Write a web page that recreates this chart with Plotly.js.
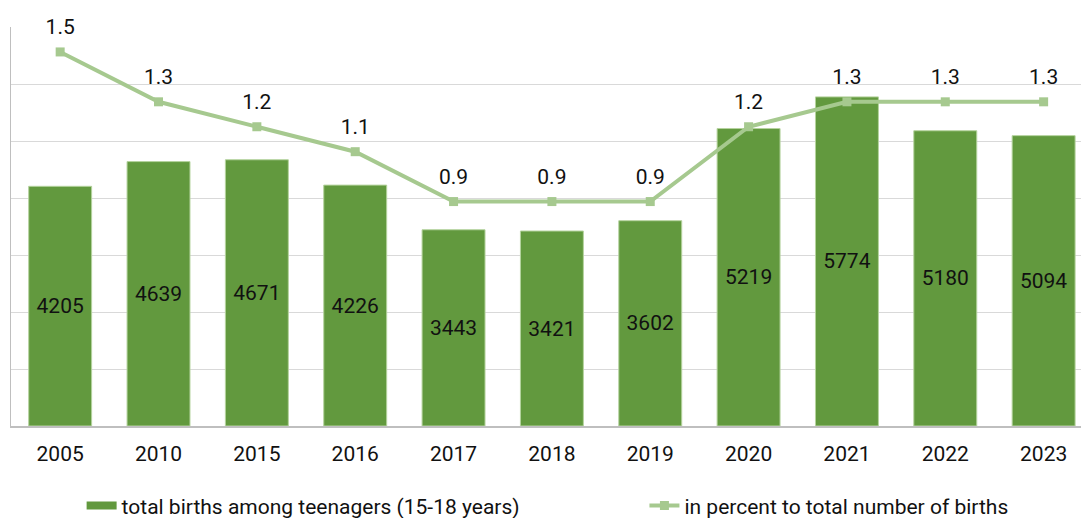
<!DOCTYPE html>
<html><head><meta charset="utf-8">
<script src="https://cdn.plot.ly/plotly-3.0.1.min.js"></script>
<style>html,body{margin:0;padding:0;background:#fff}#chart{width:1081px;height:518px}</style>
</head><body><div id="chart"></div>
<script>
const years = ["2005","2010","2015","2016","2017","2018","2019","2020","2021","2022","2023"];
const births = [4205,4639,4671,4226,3443,3421,3602,5219,5774,5180,5094];
const percent = [1.5,1.3,1.2,1.1,0.9,0.9,0.9,1.2,1.3,1.3,1.3];
const barName = "total births among teenagers (15-18 years)";
const lineName = "in percent to total number of births";

const font = "Roboto, 'Noto Sans', sans-serif";
const barColor = "#62993e";
const lineColor = "#a6c98f";
const traces = [
  {type:"bar", x:years, y:births, name:barName, showlegend:false,
   marker:{color:barColor, line:{color:"#b5d39e", width:1}},
   text:births.map(String), textposition:"inside", insidetextanchor:"middle",
   textangle:0, textfont:{family:font, size:21, color:"#111"}, constraintext:"none"},
  {type:"scatter", mode:"lines", x:[years[0]], y:[null], name:barName, legend:"legend",
   line:{color:barColor, width:8}, hoverinfo:"skip"},
  {type:"scatter", mode:"lines+markers", x:years, y:percent, yaxis:"y2", name:lineName, legend:"legend2",
   line:{color:lineColor, width:4}, marker:{color:lineColor, size:9, symbol:"square"}, cliponaxis:false},
  // value labels above the line points
  {type:"scatter", mode:"markers+text", x:years, y:percent, yaxis:"y2", showlegend:false,
   marker:{size:18, color:"rgba(0,0,0,0)"}, text:percent.map(v=>v.toFixed(1)),
   textposition:"top center", textfont:{family:font, size:21, color:"#111"}, cliponaxis:false}
];
const legendBase = {orientation:"h", y:-0.2, yanchor:"middle", xanchor:"left",
  font:{family:font, size:21, color:"#111"}, bgcolor:"rgba(0,0,0,0)"};
const layout = {
  width:1081, height:518,
  margin:{l:11, r:0, t:27, b:92, autoexpand:false},
  paper_bgcolor:"#fff", plot_bgcolor:"#fff",
  font:{family:font, size:21, color:"#111"},
  bargap:0.36,
  showlegend:true,
  legend:Object.assign({}, legendBase, {x:0.066}),
  legend2:Object.assign({}, legendBase, {x:0.592}),
  xaxis:{type:"category", range:[-0.5,10.38], showgrid:false, showline:true, linecolor:"#bfbfbf",
         linewidth:1.5, ticks:"", ticklabelstandoff:8, tickfont:{family:font,size:21,color:"#111"}},
  yaxis:{range:[0,7000], dtick:1000, showgrid:true, gridcolor:"#d9d9d9", gridwidth:1,
         showline:true, linecolor:"#bfbfbf", linewidth:1.5, showticklabels:false, ticks:"", zeroline:false},
  yaxis2:{range:[0,1.6], overlaying:"y", side:"right", showgrid:false, showticklabels:false,
          showline:false, zeroline:false, ticks:""}
};
Plotly.newPlot("chart", traces, layout, {displayModeBar:false, staticPlot:true})
  .catch(e=>{document.body.insertAdjacentText("beforeend", String(e));});
</script></body></html>
